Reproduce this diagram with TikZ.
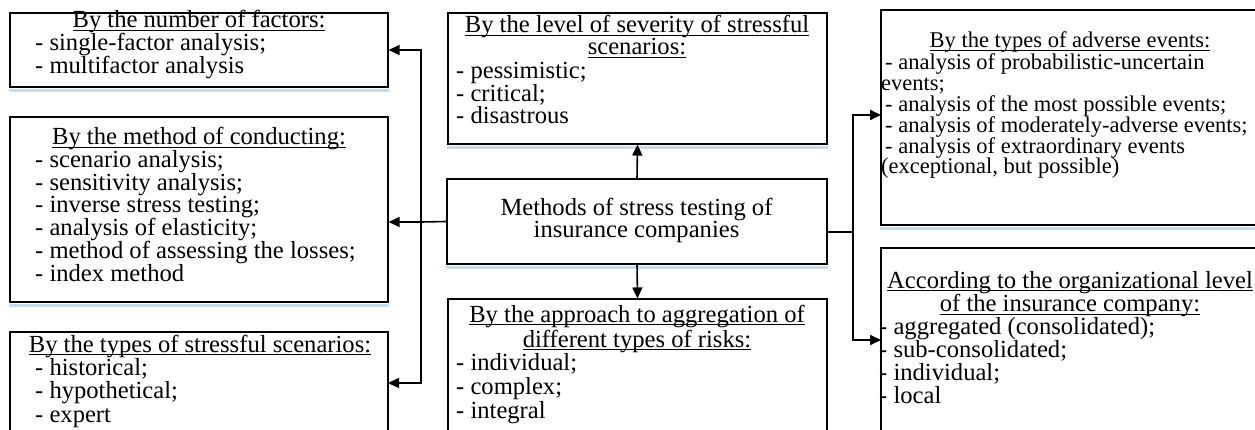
\documentclass[tikz,border=0pt]{standalone}
\usepackage{fontspec}
\setmainfont{Liberation Serif}
\usetikzlibrary{arrows.meta}
\definecolor{shadeblue}{RGB}{200,218,238}
\newcommand\myul[1]{\setbox0\hbox{#1}\rlap{\rule[-3pt]{\wd0}{0.9pt}}\box0}
\begin{document}
\begin{tikzpicture}[x=1pt,y=-1pt,
  box/.style={draw=black, line width=1.1pt, inner sep=0pt},
  ttl/.style={anchor=base, align=center, inner sep=0pt, font=\fontsize{24.6}{22}\selectfont},
  items/.style={anchor=base west, align=left, inner sep=0pt},
  conn/.style={line width=1.6pt},
  arr/.style={conn, -{Triangle[length=11pt,width=10pt]}},
  shadeline/.style={draw=shadeblue, line width=2.2pt}]
\useasboundingbox (0,0) rectangle (1255,430);
\clip (0,0) rectangle (1255,430);
% boxes
\node[box, minimum width=378pt, minimum height=74pt]  (B1) at (199,50) {};
\node[box, minimum width=378pt, minimum height=185pt] (B2) at (199,209.5) {};
\node[box, minimum width=378pt, minimum height=128pt] (B3) at (199,396) {};
\node[box, minimum width=379pt, minimum height=131pt] (S)  at (637.5,78.5) {};
\node[box, minimum width=380pt, minimum height=85pt]  (C)  at (637,221.5) {};
\node[box, minimum width=379pt, minimum height=161pt] (A)  at (637.5,379.5) {};
\node[box, minimum width=384pt, minimum height=215pt] (R1) at (1073,117.5) {};
\node[box, minimum width=384pt, minimum height=212pt] (R2) at (1073,354) {};
% shadows
\foreach \b in {B1,B2,S,C,R1}
  \draw[shadeline] ([yshift=-3pt]\b.south west) -- ([yshift=-3pt]\b.south east);
% texts (anchor = baseline of the last line)
\node[ttl] (B1t) at (199,28) {\myul{By the number of factors:}};
\node[items, font=\fontsize{24.6}{22}\selectfont] (B1i) at (35,74) {- single-factor analysis;\\- multifactor analysis};
\node[ttl] (B2t) at (199,145) {\myul{By the method of conducting:}};
\node[items, font=\fontsize{24.6}{23}\selectfont] (B2i) at (35,282) {- scenario analysis;\\- sensitivity analysis;\\- inverse stress testing;\\- analysis of elasticity;\\- method of assessing the losses;\\- index method};
\node[ttl] (B3t) at (200,352) {\myul{By the types of stressful scenarios:}};
\node[items, font=\fontsize{24.6}{23.5}\selectfont] (B3i) at (35,422) {- historical;\\- hypothetical;\\- expert};
\node[ttl] (St) at (637,55) {\myul{By the level of severity of stressful}\\\myul{scenarios:}};
\node[items, font=\fontsize{24.6}{22}\selectfont] (Si) at (456,124) {- pessimistic;\\- critical;\\- disastrous};
\node[ttl] (Ct) at (636.5,238) {Methods of stress testing of\\insurance companies};
\node[ttl, font=\fontsize{24.6}{25}\selectfont] (At) at (637,347) {\myul{By the approach to aggregation of}\\\myul{different types of risks:}};
\node[items, font=\fontsize{24.6}{24}\selectfont] (Ai) at (456,418) {- individual;\\- complex;\\- integral};
\node[ttl, font=\fontsize{22.5}{22}\selectfont] (R1t) at (1070,48) {\myul{By the types of adverse events:}};
\node[items, font=\fontsize{22.5}{20.8}\selectfont] (R1i) at (881,174) {\hspace*{4pt}- analysis of probabilistic-uncertain\\events;\\\hspace*{4pt}- analysis of the most possible events;\\\hspace*{4pt}- analysis of moderately-adverse events;\\\hspace*{4pt}- analysis of extraordinary events\\(exceptional, but possible)};
\node[ttl, font=\fontsize{24.6}{24}\selectfont] (R2t) at (1070,312) {\myul{According to the organizational level}\\\myul{of the insurance company:}};
\node[items, font=\fontsize{24.6}{23}\selectfont] (R2i) at (879,403) {- aggregated (consolidated);\\- sub-consolidated;\\- individual;\\- local};
% connectors
\coordinate (lv) at (421,222);
\coordinate (tipB3) at (388,383);
\coordinate (rv) at (853,232);
\coordinate (tipR1) at (881,115);
\coordinate (tipR2) at (881,340);
\draw[conn] (C.west) -- (lv);
\draw[arr] (lv) |- (B1.east);
\draw[arr] (lv) -- (lv -| B2.east);
\draw[arr] (lv) |- (tipB3);
\draw[arr] (C.north) -- (S.south);
\draw[arr] (C.south) -- (A.north);
\draw[conn] (C.east |- rv) -- (rv);
\draw[arr] (rv) |- (tipR1);
\draw[arr] (rv) |- (tipR2);
\end{tikzpicture}
\end{document}
